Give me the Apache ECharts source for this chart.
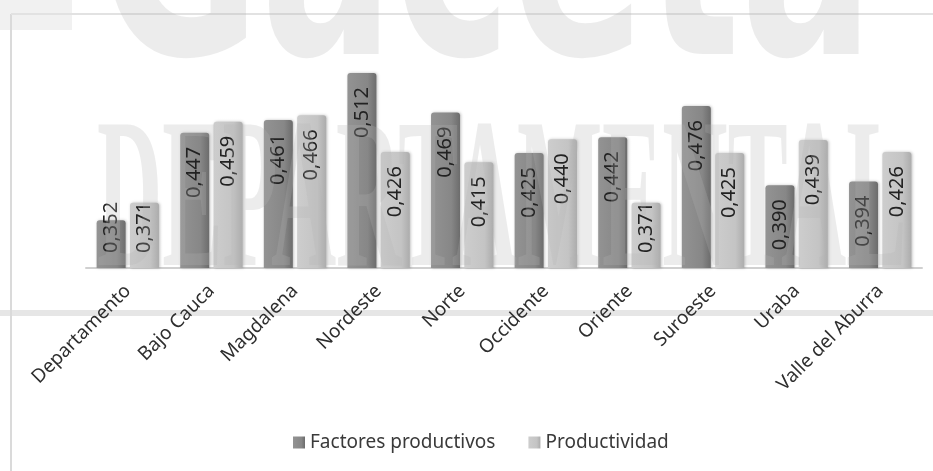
<!DOCTYPE html>
<html>
<head>
<meta charset="utf-8">
<script src="https://cdn.jsdelivr.net/npm/echarts@6/dist/echarts.min.js"></script>
<style>html,body{margin:0;padding:0;background:#fff;}#c{width:933px;height:471px;}</style>
</head>
<body>
<div id="c"></div>
<script>
const categories = ['Departamento','Bajo Cauca','Magdalena','Nordeste','Norte','Occidente','Oriente','Suroeste','Uraba','Valle del Aburra'];
const factores = [0.352,0.447,0.461,0.512,0.469,0.425,0.442,0.476,0.390,0.394];
const productividad = [0.371,0.459,0.466,0.426,0.415,0.440,0.371,0.425,0.439,0.426];
const seriesNames = ['Factores productivos','Productividad'];

const FONT = 'Noto Sans';
const fmt = v => v.toFixed(3).replace('.', ',');
const topLabel = {show:true, position:'insideTop', rotate:90, align:'right', verticalAlign:'middle', distance:14,
  formatter: p => fmt(p.value), fontFamily:FONT, fontSize:20, color:'#222222'};
const bottomLabel = Object.assign({}, topLabel, {position:'insideBottom', align:'left', distance:15});
function build(vals){
  return vals.map(v => v < 0.38 ? {value:v, label:bottomLabel} : {value:v});
}
function grad(a,b,c){
  return {type:'linear', x:0, y:0, x2:1, y2:0, colorStops:[{offset:0,color:a},{offset:0.7,color:b},{offset:1,color:c}]};
}

const chart = echarts.init(document.getElementById('c'), null, {renderer:'canvas'});
chart.setOption({
  animation:false,
  backgroundColor:'#ffffff',
  grid:{left:86, right:11, top:38, bottom:203},
  xAxis:{type:'category', data:categories,
    axisLine:{lineStyle:{color:'#d0d0d0', width:2}}, axisTick:{show:false},
    axisLabel:{rotate:45, margin:20, interval:0, fontFamily:FONT, fontSize:19, color:'#2e2e2e'}},
  yAxis:{type:'value', min:0.3, max:0.55, show:false, splitLine:{show:false}},
  legend:{data:seriesNames, bottom:14, left:288, itemWidth:12, itemHeight:12, itemGap:33,
    icon:'rect', textStyle:{fontFamily:FONT, fontSize:19, color:'#3a3a3a'}},
  series:[
    {name:seriesNames[0], type:'bar', data:build(factores), barWidth:29, barGap:'15%',
      itemStyle:{color:grad('#939393','#878787','#6c6c6c'), borderRadius:[3,3,0,0],
        shadowBlur:3, shadowColor:'rgba(0,0,0,0.25)', shadowOffsetX:1}, label:topLabel},
    {name:seriesNames[1], type:'bar', data:build(productividad), barWidth:29,
      itemStyle:{color:grad('#cdcdcd','#c4c4c4','#acacac'), borderRadius:[3,3,0,0],
        shadowBlur:3, shadowColor:'rgba(0,0,0,0.25)', shadowOffsetX:1}, label:topLabel}
  ],
  graphic:[
    {type:'rect', z:-1, shape:{x:0, y:310, width:933, height:6}, style:{fill:'#e6e6e6'}, silent:true},
    {type:'rect', z:-1, shape:{x:0, y:0, width:72, height:30}, style:{fill:'#f1f1f1'}, silent:true},
    {type:'line', z:-1, shape:{x1:11, y1:14, x2:11, y2:471}, style:{stroke:'#dadada', lineWidth:2}, silent:true},
    {type:'line', z:-1, shape:{x1:11, y1:14, x2:933, y2:14}, style:{stroke:'#e2e2e2', lineWidth:2}, silent:true},
    {type:'text', z:100, silent:true, x:98, y:-24, scaleX:0.66,
      style:{text:'Gaceta', fontFamily:'DejaVu Sans', fontWeight:'bold', fontSize:300, fill:'#b2b2b2', opacity:0.25, textVerticalAlign:'middle'}},
    {type:'text', z:100, silent:true, x:97, y:209, scaleX:0.42,
      style:{text:'DEPARTAMENTAL', fontFamily:'Liberation Serif', fontWeight:'bold', fontSize:215, fill:'#b2b2b2', opacity:0.25, textVerticalAlign:'middle'}}
  ]
});
</script>
</body>
</html>
